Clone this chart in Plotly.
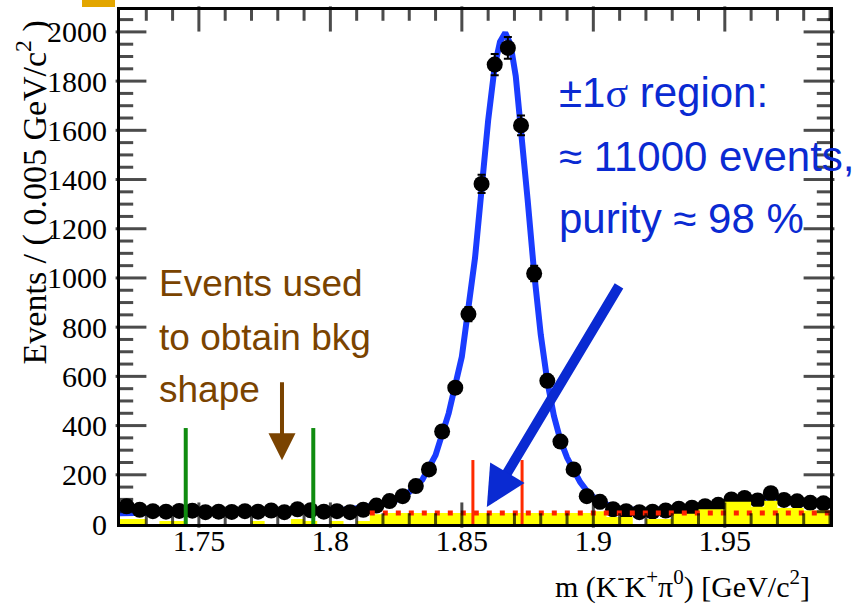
import numpy as np
import plotly.graph_objects as go

# ---- binning of the K-K+pi0 invariant-mass histogram -------------------
BIN_WIDTH = 0.005
MASS_MIN, MASS_MAX = 1.72, 1.99
N_BINS = 54
bin_edges = np.round(MASS_MIN + BIN_WIDTH * np.arange(N_BINS + 1), 4)
bin_centers = np.round(bin_edges[:-1] + BIN_WIDTH / 2, 4)

# events per 5 MeV/c^2 bin (data points)
data_counts = [72, 58, 52, 50, 53, 54, 48, 50, 49, 52,
               50, 55, 48, 60, 56, 50, 52, 48, 58, 75,
               93, 113, 154, 222, 376, 554, 853, 1382, 1867, 1935,
               1620, 1018, 582, 335, 222, 113, 90, 60, 52, 48,
               50, 55, 62, 66, 72, 78, 100, 106, 96, 125,
               98, 92, 86, 84]

# background-shape histogram (yellow)
bkg_counts = [20, 20, 0, 12, 12, 0, 0, 0, 0, 0,
              12, 0, 0, 20, 12, 0, 12, 0, 12, 40,
              45, 45, 45, 45, 45, 45, 45, 45, 45, 45,
              45, 45, 45, 45, 45, 45, 52, 28, 28, 0,
              20, 20, 42, 42, 60, 60, 90, 90, 70, 95,
              65, 65, 55, 55]

# fitted total shape (blue curve)
fit_mass = [1.720, 1.740, 1.760, 1.780, 1.795, 1.805, 1.812, 1.818, 1.822,
            1.826, 1.830, 1.835, 1.840, 1.845, 1.850, 1.855, 1.8575, 1.860,
            1.8625, 1.8645, 1.8665, 1.8685, 1.8705, 1.8725, 1.875, 1.8775,
            1.880, 1.8825, 1.885, 1.8875, 1.890, 1.8925, 1.895, 1.8975,
            1.900, 1.905, 1.910, 1.920, 1.930, 1.940, 1.950, 1.960, 1.970,
            1.980, 1.990]
fit_events = [44, 46, 48, 50, 53, 58, 66, 78, 88,
              102, 130, 180, 280, 450, 680, 1080, 1380, 1640,
              1860, 1960, 1996, 1950, 1820, 1620, 1320, 1020,
              770, 580, 440, 340, 270, 220, 170, 135,
              110, 80, 62, 55, 60, 70, 85, 95, 100,
              90, 88]

# flat background level under the signal region (red dotted)
flat_bkg_mass = [1.815, 1.99]
flat_bkg_level = [45, 45]

# sideband limits (green) and +-1 sigma signal window (red)
sideband_limits = [1.745, 1.7935]
sideband_height = 390
signal_limits = [1.8542, 1.8729]
signal_height = 260

Y_MAX = 2089

# axis tick positions (major / minor)
x_major = [1.75, 1.80, 1.85, 1.90, 1.95]
x_major_labels = ["1.75", "1.8", "1.85", "1.9", "1.95"]
x_minor = [round(1.72 + 0.01 * i, 2) for i in range(1, 28)]
y_major = list(range(0, 2001, 200))
y_minor = list(range(50, 2051, 50))

# plot-area size in pixels, used to express tick lengths in data units
PLOT_W, PLOT_H = 710, 517
px_x = (MASS_MAX - MASS_MIN) / PLOT_W
px_y = Y_MAX / PLOT_H

fig = go.Figure()

fig.add_trace(go.Scatter(
    x=fit_mass, y=fit_events, mode="lines",
    line=dict(color="#1a3cff", width=6), hoverinfo="skip"))

fig.add_trace(go.Scatter(
    x=bin_centers, y=data_counts, mode="markers",
    marker=dict(color="black", size=16, symbol="circle"),
    error_y=dict(type="data", array=np.sqrt(data_counts), color="black",
                 thickness=2, width=4)))

step_x = list(bin_edges)
step_y = list(bkg_counts) + [bkg_counts[-1]]
fig.add_trace(go.Scatter(
    x=step_x, y=step_y, mode="lines", line_shape="hv",
    line=dict(width=0, color="rgba(0,0,0,0)"),
    fill="tozeroy", fillcolor="#ffff00", hoverinfo="skip"))

fig.add_trace(go.Scatter(
    x=flat_bkg_mass, y=flat_bkg_level, mode="lines",
    line=dict(color="#ff2200", width=5, dash="5px,8px"), hoverinfo="skip"))

for m in sideband_limits:
    fig.add_trace(go.Scatter(x=[m, m], y=[0, sideband_height], mode="lines",
                             line=dict(color="#108c10", width=4)))
for m in signal_limits:
    fig.add_trace(go.Scatter(x=[m, m], y=[0, signal_height], mode="lines",
                             line=dict(color="#ff2a00", width=3)))

# tick marks pointing into the frame on all four sides, drawn as short
# line markers whose centre sits half a tick length inside the frame
def tick_len(v, majors, major_len, minor_len):
    return major_len if any(abs(v - m) < 1e-9 for m in majors) else minor_len

xt_x, xt_y, xt_s = [], [], []
for xv in x_minor:
    n = tick_len(xv, x_major, 18, 9)
    xt_x += [xv, xv]
    xt_y += [n / 2 * px_y, Y_MAX - n / 2 * px_y]
    xt_s += [n, n]
fig.add_trace(go.Scatter(
    x=xt_x, y=xt_y, mode="markers", cliponaxis=False, hoverinfo="skip",
    marker=dict(symbol="line-ns", size=xt_s, color="black",
                line=dict(width=3, color="black"))))

yt_x, yt_y, yt_s = [], [], []
for yv in y_minor:
    n = tick_len(yv, y_major, 22, 11)
    yt_x += [MASS_MIN + n / 2 * px_x, MASS_MAX - n / 2 * px_x]
    yt_y += [yv, yv]
    yt_s += [n, n]
fig.add_trace(go.Scatter(
    x=yt_x, y=yt_y, mode="markers", cliponaxis=False, hoverinfo="skip",
    marker=dict(symbol="line-ew", size=yt_s, color="black",
                line=dict(width=3, color="black"))))

serif = "Liberation Serif"
sans = "Liberation Sans"
blue = "#0a2ad2"
brown = "#7a4300"

fig.update_layout(
    xaxis=dict(
        range=[MASS_MIN, MASS_MAX], tickvals=x_major, ticktext=x_major_labels,
        ticks="", ticklabelstandoff=-12,
        showline=True, linecolor="#000000", linewidth=3, mirror=True,
        showgrid=False, zeroline=False,
        tickfont=dict(family=serif, size=30, color="black"),
    ),
    yaxis=dict(
        range=[0, Y_MAX], tickvals=y_major,
        ticks="", ticklabelstandoff=4,
        showline=True, linecolor="#000000", linewidth=3, mirror=True,
        showgrid=False, zeroline=False,
        tickfont=dict(family=serif, size=30, color="black"),
    ),
)

annotations = [
    # axis titles
    dict(text="Events / ( 0.005 GeV/c<sup>2</sup> )", textangle=-90,
         xref="paper", yref="paper", x=-0.124, y=0.645,
         xanchor="center", yanchor="middle", showarrow=False,
         font=dict(family=serif, size=34, color="black")),
    dict(text="m (K<sup>-</sup>K<sup>+</sup>π<sup>0</sup>) [GeV/c<sup>2</sup>]",
         xref="paper", yref="paper", x=0.9746, y=-0.118,
         xanchor="right", yanchor="middle", showarrow=False,
         font=dict(family=serif, size=30, color="black")),
    # signal-region note
    dict(text="±1<span style='font-family:Liberation Serif'>σ</span> region:",
         x=1.8862, y=1753, xanchor="left", yanchor="middle", showarrow=False,
         font=dict(family=sans, size=42, color=blue)),
    dict(text="≈ 11000 events,", x=1.8862, y=1495, xanchor="left",
         yanchor="middle", showarrow=False,
         font=dict(family=sans, size=42, color=blue)),
    dict(text="purity ≈ 98 %", x=1.8862, y=1240, xanchor="left",
         yanchor="middle", showarrow=False,
         font=dict(family=sans, size=42, color=blue)),
    # sideband note
    dict(text="Events used", x=1.7341, y=978, xanchor="left",
         yanchor="middle", showarrow=False,
         font=dict(family=sans, size=37, color=brown)),
    dict(text="to obtain bkg", x=1.7341, y=756, xanchor="left",
         yanchor="middle", showarrow=False,
         font=dict(family=sans, size=37, color=brown)),
    dict(text="shape", x=1.7341, y=545, xanchor="left",
         yanchor="middle", showarrow=False,
         font=dict(family=sans, size=37, color=brown)),
    # arrows
    dict(text="", x=1.8595, y=69, ax=1.9101, ay=974, axref="x", ayref="y",
         showarrow=True, arrowhead=2, arrowsize=0.8, arrowwidth=10,
         arrowcolor="#0a2ad2", standoff=0),
    dict(text="", x=1.7816, y=259, ax=1.7816, ay=582, axref="x", ayref="y",
         showarrow=True, arrowhead=2, arrowsize=1.35, arrowwidth=4,
         arrowcolor=brown, standoff=0),
]

fig.update_layout(
    width=858, height=608,
    margin=dict(l=120, r=28, t=7, b=84),
    paper_bgcolor="white", plot_bgcolor="white",
    showlegend=False,
    annotations=annotations,
    shapes=[dict(type="rect", xref="paper", yref="paper",
                 x0=-0.0535, x1=-0.007, y0=1.0058, y1=1.02,
                 fillcolor="#e3a600", line=dict(width=0), layer="above")],
)

fig.write_html("out.html")
